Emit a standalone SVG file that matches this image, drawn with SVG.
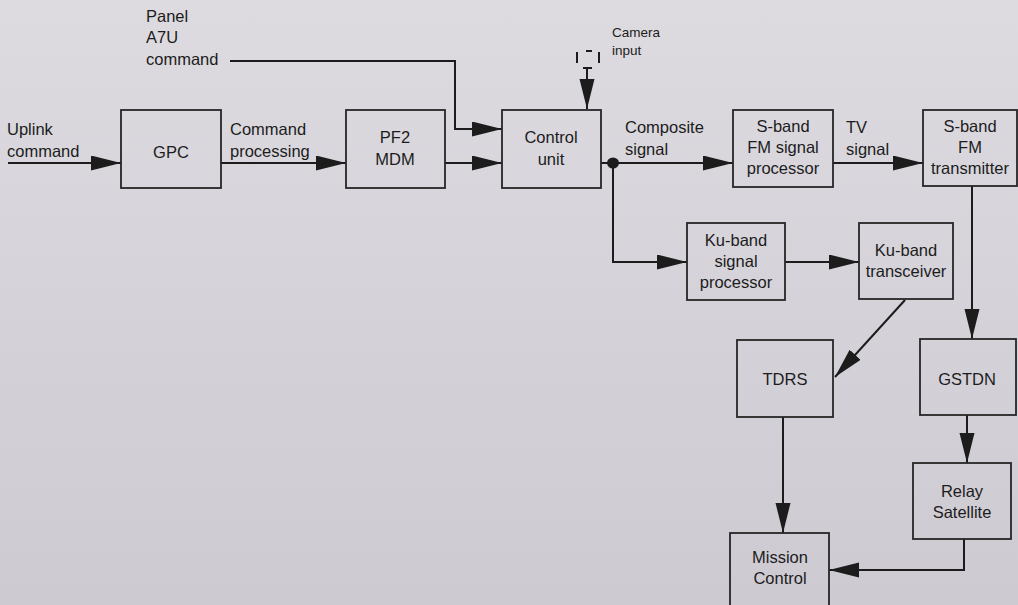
<svg xmlns="http://www.w3.org/2000/svg" width="1018" height="605" viewBox="0 0 1018 605">
<defs>
<linearGradient id="bg" x1="0" y1="0" x2="0" y2="1">
<stop offset="0" stop-color="#dddbe0"/>
<stop offset="1" stop-color="#cdcad2"/>
</linearGradient>
<marker id="ah" markerUnits="userSpaceOnUse" markerWidth="32" markerHeight="16" refX="30" refY="7.5" orient="auto">
<path d="M0,0 L30,7.5 L0,15 z" fill="#1c1c1c"/>
</marker>
</defs>
<style>
.box{fill:none;stroke:#262626;stroke-width:1.8}
.ln{fill:none;stroke:#1c1c1c;stroke-width:2}
.t{font-family:"Liberation Sans",Arial,sans-serif;font-size:16.5px;fill:#1c1c1c}
.c{text-anchor:middle}
.s{font-size:13.5px}
</style>
<rect width="1018" height="605" fill="url(#bg)"/>

<g id="connectors">
<line class="ln" x1="8" y1="163" x2="121" y2="163" marker-end="url(#ah)"/>
<line class="ln" x1="221" y1="163" x2="346" y2="163" marker-end="url(#ah)"/>
<line class="ln" x1="445" y1="163" x2="502" y2="163" marker-end="url(#ah)"/>
<polyline class="ln" points="230,61 455,61 455,129 502,129" marker-end="url(#ah)"/>
<line class="ln" x1="587" y1="68" x2="587" y2="109" marker-end="url(#ah)"/>
<line class="ln" x1="601" y1="163" x2="733" y2="163" marker-end="url(#ah)"/>
<polyline class="ln" points="613,163 613,262 687,262" marker-end="url(#ah)"/>
<line class="ln" x1="833" y1="163" x2="923" y2="163" marker-end="url(#ah)"/>
<line class="ln" x1="785" y1="262" x2="859" y2="262" marker-end="url(#ah)"/>
<line class="ln" x1="972" y1="186" x2="972" y2="339" marker-end="url(#ah)"/>
<line class="ln" x1="905" y1="300" x2="835" y2="377" marker-end="url(#ah)"/>
<line class="ln" x1="783" y1="417" x2="783" y2="533" marker-end="url(#ah)"/>
<line class="ln" x1="967" y1="415" x2="967" y2="463" marker-end="url(#ah)"/>
<polyline class="ln" points="964,539 964,570 829,570" marker-end="url(#ah)"/>
<ellipse cx="613" cy="163" rx="6" ry="5.5" fill="#1c1c1c"/>
</g>

<g id="uplink">
<text class="t" x="7" y="135">Uplink</text>
<text class="t" x="7" y="157">command</text>
</g>
<g id="panel">
<text class="t" x="146" y="22">Panel</text>
<text class="t" x="146" y="43">A7U</text>
<text class="t" x="146" y="65">command</text>
</g>
<g id="cmdproc">
<text class="t" x="230" y="135">Command</text>
<text class="t" x="230" y="157">processing</text>
</g>
<g id="gpc">
<rect class="box" x="121" y="110" width="100" height="78"/>
<text class="t c" x="171" y="158">GPC</text>
</g>
<g id="pf2">
<rect class="box" x="346" y="110" width="99" height="78"/>
<text class="t c" x="395" y="143">PF2</text>
<text class="t c" x="395" y="165">MDM</text>
</g>
<g id="camera">
<line class="ln" x1="577" y1="52" x2="577" y2="63" stroke-width="2.2"/>
<line class="ln" x1="599" y1="52" x2="599" y2="63" stroke-width="2.2"/>
<line class="ln" x1="586" y1="51" x2="592" y2="51" stroke-width="2.2"/>
<line class="ln" x1="583" y1="68" x2="592" y2="68" stroke-width="2.2"/>
<text class="t s" x="612" y="37">Camera</text>
<text class="t s" x="612" y="55">input</text>
</g>
<g id="control">
<rect class="box" x="502" y="110" width="99" height="78"/>
<text class="t c" x="551" y="143">Control</text>
<text class="t c" x="551" y="165">unit</text>
</g>
<g id="composite">
<text class="t" x="625" y="133">Composite</text>
<text class="t" x="625" y="155">signal</text>
</g>
<g id="sbandproc">
<rect class="box" x="733" y="110" width="100" height="77"/>
<text class="t c" x="783" y="132">S-band</text>
<text class="t c" x="783" y="153">FM signal</text>
<text class="t c" x="783" y="174">processor</text>
</g>
<g id="tvsignal">
<text class="t" x="846" y="133">TV</text>
<text class="t" x="846" y="155">signal</text>
</g>
<g id="sbandtx">
<rect class="box" x="923" y="110" width="94" height="76"/>
<text class="t c" x="970" y="132">S-band</text>
<text class="t c" x="970" y="153">FM</text>
<text class="t c" x="970" y="174">transmitter</text>
</g>
<g id="kuproc">
<rect class="box" x="687" y="223" width="98" height="77"/>
<text class="t c" x="736" y="246">Ku-band</text>
<text class="t c" x="736" y="267">signal</text>
<text class="t c" x="736" y="288">processor</text>
</g>
<g id="kutx">
<rect class="box" x="859" y="223" width="94" height="76"/>
<text class="t c" x="906" y="256">Ku-band</text>
<text class="t c" x="906" y="277">transceiver</text>
</g>
<g id="tdrs">
<rect class="box" x="737" y="340" width="96" height="77"/>
<text class="t c" x="785" y="385">TDRS</text>
</g>
<g id="gstdn">
<rect class="box" x="920" y="339" width="96" height="76"/>
<text class="t c" x="967" y="385">GSTDN</text>
</g>
<g id="relay">
<rect class="box" x="913" y="463" width="98" height="76"/>
<text class="t c" x="962" y="497">Relay</text>
<text class="t c" x="962" y="518">Satellite</text>
</g>
<g id="mission">
<rect class="box" x="730" y="533" width="99" height="85"/>
<text class="t c" x="780" y="563">Mission</text>
<text class="t c" x="780" y="584">Control</text>
</g>
</svg>
